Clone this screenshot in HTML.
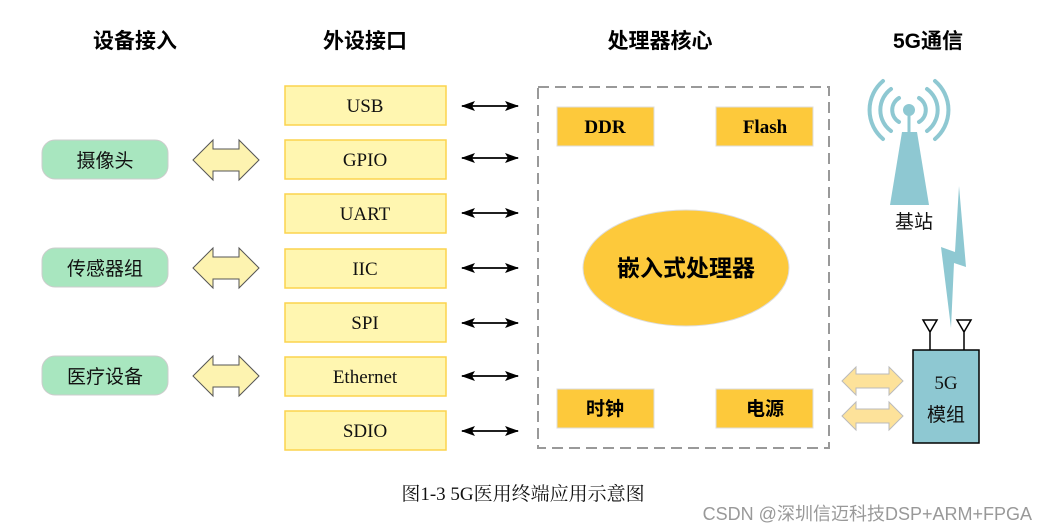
<!DOCTYPE html>
<html><head><meta charset="utf-8"><style>
body{margin:0;background:#fff}
svg{display:block}
.h{font:bold 21px "Liberation Sans","Noto Sans CJK SC",sans-serif;fill:#000}
.s{font:19px "Liberation Serif","Noto Serif CJK SC",serif;fill:#111}
.c{font:19px "Liberation Sans","Noto Sans CJK SC",sans-serif;fill:#111}
.b{font:bold 19px "Liberation Serif","Noto Sans CJK SC",serif;fill:#000}
</style></head><body>
<svg width="1048" height="532" viewBox="0 0 1048 532" xmlns="http://www.w3.org/2000/svg">
<defs>
<marker id="a" markerWidth="14" markerHeight="10" refX="13" refY="5" orient="auto-start-reverse" markerUnits="userSpaceOnUse"><path d="M0,0 L14,5 L0,10 L3,5 Z" fill="#000"/></marker>
<g id="fat"><path d="M0,20 L20,0 L20,9 L46,9 L46,0 L66,20 L46,40 L46,31 L20,31 L20,40 Z" fill="#fdf3b0" stroke="#555" stroke-width="1"/></g>
<g id="fat2"><path d="M0,14 L14,0 L14,7 L47,7 L47,0 L61,14 L47,28 L47,21 L14,21 L14,28 Z" fill="#fde29a" stroke="#bbb" stroke-width="1"/></g>
</defs>
<text class="h" x="135" y="48" text-anchor="middle">设备接入</text>
<text class="h" x="365" y="48" text-anchor="middle">外设接口</text>
<text class="h" x="660" y="48" text-anchor="middle">处理器核心</text>
<text class="h" x="928" y="48" text-anchor="middle">5G通信</text>

<g fill="#a8e6bf" stroke="#ccc">
<rect x="42" y="140" width="126" height="39" rx="13"/>
<rect x="42" y="248" width="126" height="39" rx="13"/>
<rect x="42" y="356" width="126" height="39" rx="13"/>
</g>
<text class="c" x="105" y="167" text-anchor="middle">摄像头</text>
<text class="c" x="105" y="275" text-anchor="middle">传感器组</text>
<text class="c" x="105" y="383" text-anchor="middle">医疗设备</text>
<use href="#fat" x="193" y="140"/>
<use href="#fat" x="193" y="248"/>
<use href="#fat" x="193" y="356"/>

<g fill="#fff6b0" stroke="#fcd34d" stroke-width="1.5">
<rect x="285" y="86" width="161" height="39"/>
<rect x="285" y="140" width="161" height="39"/>
<rect x="285" y="194" width="161" height="39"/>
<rect x="285" y="249" width="161" height="39"/>
<rect x="285" y="303" width="161" height="39"/>
<rect x="285" y="357" width="161" height="39"/>
<rect x="285" y="411" width="161" height="39"/>
</g>
<g class="s" text-anchor="middle">
<text x="365" y="112">USB</text>
<text x="365" y="166">GPIO</text>
<text x="365" y="220">UART</text>
<text x="365" y="275">IIC</text>
<text x="365" y="329">SPI</text>
<text x="365" y="383">Ethernet</text>
<text x="365" y="437">SDIO</text>
</g>
<g stroke="#000" stroke-width="1.8" marker-start="url(#a)" marker-end="url(#a)">
<line x1="462" y1="106" x2="518" y2="106"/>
<line x1="462" y1="158" x2="518" y2="158"/>
<line x1="462" y1="213" x2="518" y2="213"/>
<line x1="462" y1="268" x2="518" y2="268"/>
<line x1="462" y1="323" x2="518" y2="323"/>
<line x1="462" y1="376" x2="518" y2="376"/>
<line x1="462" y1="431" x2="518" y2="431"/>
</g>

<rect x="538" y="87" width="291" height="361" fill="none" stroke="#999" stroke-width="2" stroke-dasharray="11,6"/>
<g fill="#fdc93b" stroke="#ddd">
<rect x="557" y="107" width="97" height="39"/>
<rect x="716" y="107" width="97" height="39"/>
<rect x="557" y="389" width="97" height="39"/>
<rect x="716" y="389" width="97" height="39"/>
<ellipse cx="686" cy="268" rx="103" ry="58"/>
</g>
<g class="b" text-anchor="middle">
<text x="605" y="133">DDR</text>
<text x="765" y="133">Flash</text>
<text x="605" y="415" font-family="Noto Sans CJK SC">时钟</text>
<text x="765" y="415" font-family="Noto Sans CJK SC">电源</text>
<text x="686" y="276" font-size="23" font-family="Noto Sans CJK SC">嵌入式处理器</text>
</g>

<g fill="none" stroke="#8ec8d2" stroke-width="4" stroke-linecap="round">
<path d="M899,98 A14,14 0 0 0 899,122"/><path d="M919,98 A14,14 0 0 1 919,122"/>
<path d="M891,89 A26,26 0 0 0 891,131"/><path d="M927,89 A26,26 0 0 1 927,131"/>
<path d="M883,81 A38,38 0 0 0 883,139"/><path d="M935,81 A38,38 0 0 1 935,139"/>
</g>
<circle cx="909" cy="110" r="6" fill="#8ec8d2"/>
<line x1="909" y1="110" x2="909" y2="133" stroke="#8ec8d2" stroke-width="3"/>
<path d="M902,132 L917,132 L929,205 L890,205 Z" fill="#8ec8d2"/>
<text class="c" x="914" y="228" text-anchor="middle">基站</text>
<path d="M959,186 L966,267 L954,263 L951,328 L941,247 L955,252 Z" fill="#8ec8d2"/>

<g stroke="#000" stroke-width="1.5" fill="none">
<path d="M923,320 L937,320 L930,332 Z M930,332 L930,351"/>
<path d="M957,320 L971,320 L964,332 Z M964,332 L964,351"/>
</g>
<rect x="913" y="350" width="66" height="93" fill="#8ec8d2" stroke="#000" stroke-width="1.5"/>
<text class="s" x="946" y="389" text-anchor="middle" font-size="22">5G</text>
<text class="c" x="946" y="421" text-anchor="middle" font-size="22">模组</text>
<use href="#fat2" x="842" y="367"/>
<use href="#fat2" x="842" y="402"/>

<text class="s" x="523" y="500" text-anchor="middle" font-size="20">图1-3 5G医用终端应用示意图</text>
<text x="1032" y="520" text-anchor="end" font-family="Liberation Sans,Noto Sans CJK SC,sans-serif" font-size="18" fill="#999">CSDN @深圳信迈科技DSP+ARM+FPGA</text>
</svg>
</body></html>
